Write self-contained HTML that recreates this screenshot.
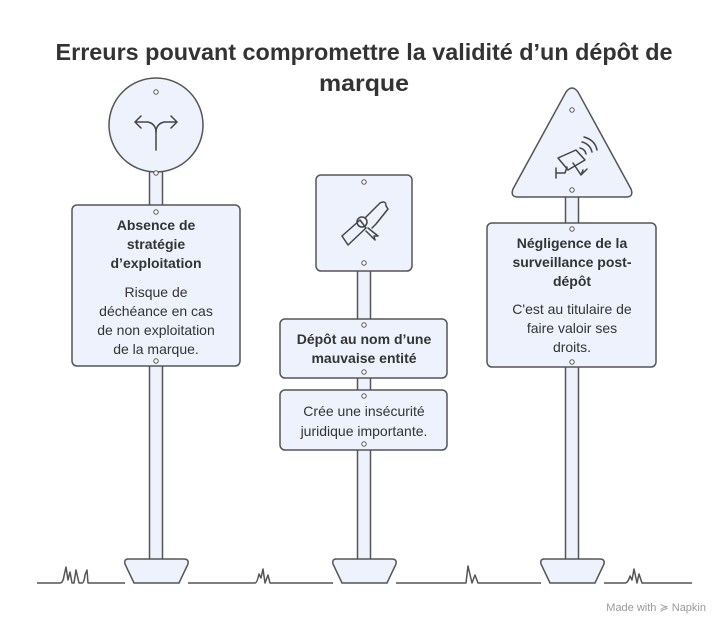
<!DOCTYPE html>
<html><head><meta charset="utf-8"><style>
html,body{margin:0;padding:0;background:#fff}
svg{display:block}
text{font-family:"Liberation Sans",sans-serif;fill:#333}
.b{font-weight:bold;font-size:14px}
.n{font-size:14px}
</style></head><body>
<svg width="728" height="632" viewBox="0 0 728 632" xmlns="http://www.w3.org/2000/svg">
<g fill="#EDF2FD" stroke="#555" stroke-width="1.5">
<rect x="149.5" y="170" width="13" height="390"/>
<rect x="357.5" y="270" width="13" height="290"/>
<rect x="565.5" y="190" width="13" height="370"/>
<path d="M128 559 H184 Q189 559 188 564 L179 583 H134 L125 564 Q124 559 128 559Z"/>
<path d="M336 559 H392 Q397 559 396 564 L387 583 H342 L333 564 Q332 559 336 559Z"/>
<path d="M544 559 H600 Q605 559 604 564 L595 583 H550 L541 564 Q540 559 544 559Z"/>
<circle cx="156" cy="125" r="47"/>
<rect x="72" y="205" width="168" height="161" rx="5"/>
<rect x="316" y="175" width="96" height="96" rx="5"/>
<rect x="280" y="319" width="167" height="59" rx="5"/>
<rect x="280" y="390" width="167" height="60" rx="5"/>
<path d="M566 92 Q572 84 578 92 L631 189 Q634 197 626 197 H518 Q510 197 513 189 Z"/>
<rect x="487" y="223" width="169" height="144" rx="5"/>
</g>
<g fill="#fff" stroke="#555" stroke-width="1">
<circle cx="156" cy="92" r="2.2"/><circle cx="156" cy="173" r="2.2"/>
<circle cx="156" cy="212" r="2.2"/><circle cx="156" cy="361" r="2.2"/>
<circle cx="364" cy="182" r="2.2"/><circle cx="364" cy="263" r="2.2"/>
<circle cx="364" cy="325" r="2.2"/><circle cx="364" cy="372" r="2.2"/>
<circle cx="364" cy="396" r="2.2"/><circle cx="364" cy="444" r="2.2"/>
<circle cx="572" cy="110" r="2.2"/><circle cx="572" cy="190" r="2.2"/>
<circle cx="572" cy="229" r="2.2"/><circle cx="572" cy="362" r="2.2"/>
</g>
<g fill="none" stroke="#444" stroke-width="1.5" stroke-linecap="round" stroke-linejoin="round">
<path d="M156 150 V132 Q156 124 148 122 H135 M141 116 L135 122 L141 128"/>
<path d="M156 132 Q156 124 164 122 H177 M171 116 L177 122 L171 128"/>
<path d="M342 236 L360 220 L366 228 L348 245 Z M365 218 L380 203 Q386 200 386 206 L388 209 L376 224 L372 228"/>
<circle cx="362" cy="222" r="5"/>
<path d="M368 228 L378 236 L374 236 L375 240 L366 231"/>
<path d="M556 168 V178 M556 173 H565 L567 167 M558 158 L576 150 L585 160 L568 170 Z M573 163 L581 175 L587 169 M583 170 L581 175"/>
<path d="M580 148 Q585 149 586 154 M582 142 Q590 144 592 152 M584 137 Q595 140 597 150"/>
</g>
<g fill="none" stroke="#555" stroke-width="1.5" stroke-linejoin="round">
<path d="M37 583 H60 Q63 583 64 576 L66 567 L68 580 L70 572 L72 583 H74 L76 570 L79 583 H82 Q84 583 85 575 L87 570 L88 583 Q93 583 95 583 H125"/>
<path d="M188 583 H255 Q257 583 259 574 L261 578 L263 569 L265 583 L268 575 L270 583 H333"/>
<path d="M396 583 H466 L468 566 L472 583 L475 575 L478 583 H541"/>
<path d="M604 583 H625 Q628 583 630 576 L632 580 L634 569 L637 583 L639 574 L642 583 Q644 583 646 583 H692"/>
</g>
<text x="364" y="60" text-anchor="middle" style="font-weight:bold;font-size:23px" textLength="617" lengthAdjust="spacingAndGlyphs">Erreurs pouvant compromettre la validité d’un dépôt de</text>
<text x="364" y="91" text-anchor="middle" style="font-weight:bold;font-size:23px" textLength="90" lengthAdjust="spacingAndGlyphs">marque</text>
<g text-anchor="middle">
<text class="b" x="156" y="230">Absence de</text>
<text class="b" x="156" y="249">stratégie</text>
<text class="b" x="156" y="268">d’exploitation</text>
<text class="n" x="156" y="297">Risque de</text>
<text class="n" x="156" y="316">déchéance en cas</text>
<text class="n" x="156" y="335">de non exploitation</text>
<text class="n" x="156" y="354">de la marque.</text>
<text class="b" x="364" y="344">Dépôt au nom d’une</text>
<text class="b" x="364" y="363">mauvaise entité</text>
<text class="n" x="364" y="416">Crée une insécurité</text>
<text class="n" x="364" y="436">juridique importante.</text>
<text class="b" x="572" y="248">Négligence de la</text>
<text class="b" x="572" y="267">surveillance post-</text>
<text class="b" x="572" y="286">dépôt</text>
<text class="n" x="572" y="314">C'est au titulaire de</text>
<text class="n" x="572" y="333">faire valoir ses</text>
<text class="n" x="572" y="352">droits.</text>
</g>
<text x="706" y="611" text-anchor="end" style="font-size:11px;fill:#999">Made with ≽ Napkin</text>
</svg>
</body></html>
